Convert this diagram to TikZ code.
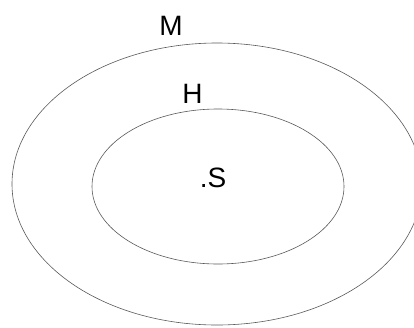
\documentclass[tikz,border=0pt]{standalone}
\usepackage{fontspec}
\setmainfont{Liberation Sans}
\usetikzlibrary{shapes.geometric}
\begin{document}
\begin{tikzpicture}[x=1pt,y=-1pt,
  ring/.style={draw=black!65,line width=0.6pt,ellipse,inner sep=0pt},
  lbl/.style={font=\fontsize{28}{30}\selectfont,inner sep=0pt,anchor=base}]
\useasboundingbox (0,0) rectangle (414,327);
\clip (0,0) rectangle (414,327);
\node[ring,minimum width=410pt,minimum height=282pt] (M) at (217,184) {};
\node[ring,minimum width=252pt,minimum height=155pt] (H) at (218,186.5) {};
\node[lbl] (mlabel) at (171,35) {M};
\node[lbl] (hlabel) at (192.5,103) {H};
\node[lbl] (slabel) at (213,187) {.S};
\end{tikzpicture}
\end{document}
